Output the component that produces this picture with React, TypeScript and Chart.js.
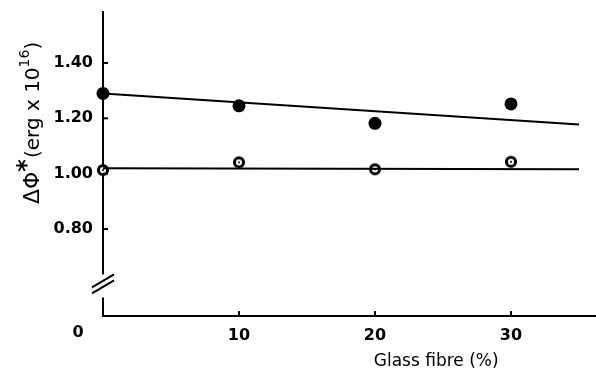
import React, { useEffect, useRef } from "react";
import { Chart, registerables } from "chart.js";

Chart.register(...registerables);

// ---- data ----
const glassFibre = [0, 10, 20, 30];
const filledValues = [1.29, 1.245, 1.182, 1.252];
const openValues = [1.013, 1.041, 1.016, 1.043];
const fitX = [0, 35];
const filledFit = [1.29, 1.178];
const openFit = [1.02, 1.016];
const yTicks = [0.8, 1.0, 1.2, 1.4];
const xTicks = [10, 20, 30];
const yTickLabels = ["0.80", "1.00", "1.20", "1.40"];
const xTickLabels = ["10", "20", "30"];
const originLabel = "0";
const xTitle = "Glass fibre (%)";
const yMin = 0.486;
const yMax = 1.584;
const xMin = 0;
const xMax = 36.25;
const breakValue = 0.6;

const FONT = "'DejaVu Sans', sans-serif";

function makeOpenMarker(): HTMLCanvasElement {
  const c = document.createElement("canvas");
  c.width = 14;
  c.height = 14;
  const g = c.getContext("2d")!;
  g.beginPath();
  g.arc(7, 7, 4.6, 0, Math.PI * 2);
  g.fillStyle = "#fff";
  g.fill();
  g.lineWidth = 3;
  g.strokeStyle = "#000";
  g.stroke();
  g.beginPath();
  g.arc(7, 7, 1.1, 0, Math.PI * 2);
  g.fillStyle = "#000";
  g.fill();
  return c;
}

const decorPlugin = {
  id: "decor",
  afterDraw(chart: any) {
    const ctx = chart.ctx as CanvasRenderingContext2D;
    const xs = chart.scales.x;
    const ys = chart.scales.y;
    const left = xs.left;
    const bottom = ys.bottom;
    ctx.save();
    ctx.strokeStyle = "#000";
    ctx.lineWidth = 2;
    // inward tick marks
    yTicks.forEach((v) => {
      const py = ys.getPixelForValue(v);
      ctx.beginPath();
      ctx.moveTo(left, py);
      ctx.lineTo(left + 5, py);
      ctx.stroke();
    });
    xTicks.forEach((v) => {
      const px = xs.getPixelForValue(v);
      ctx.beginPath();
      ctx.moveTo(px, bottom);
      ctx.lineTo(px, bottom - 5);
      ctx.stroke();
    });
    // axis break
    const by = ys.getPixelForValue(breakValue);
    ctx.fillStyle = "#fff";
    ctx.fillRect(left - 3, by - 10, 6, 23);
    ctx.beginPath();
    ctx.moveTo(left - 11, by + 3);
    ctx.lineTo(left + 11, by - 10);
    ctx.moveTo(left - 11, by + 9);
    ctx.lineTo(left + 11, by - 4);
    ctx.stroke();
    // origin label
    ctx.fillStyle = "#000";
    ctx.textAlign = "center";
    ctx.textBaseline = "middle";
    ctx.font = `bold 16px ${FONT}`;
    ctx.fillText(originLabel, left - 25, bottom + 17);
    // x title
    ctx.font = `17px ${FONT}`;
    ctx.fillText(xTitle, xs.getPixelForValue(24.5), bottom + 46);
    // y title (rotated)
    ctx.translate(39, 204);
    ctx.rotate(-Math.PI / 2);
    ctx.textAlign = "left";
    ctx.textBaseline = "alphabetic";
    let x = 0;
    const seg = (t: string, font: string, dy: number) => {
      ctx.font = font;
      ctx.fillText(t, x, dy);
      x += ctx.measureText(t).width;
    };
    seg("ΔΦ", `22px ${FONT}`, 0);
    seg("*", `bold 24px ${FONT}`, -5);
    x += 1;
    seg("(erg x 10", `20px ${FONT}`, 0);
    seg("16", `14px ${FONT}`, -10);
    seg(")", `20px ${FONT}`, 0);
    ctx.restore();
  },
};

export default function App() {
  const ref = useRef<HTMLCanvasElement>(null);
  useEffect(() => {
    if (!ref.current) return;
    const openMarker = makeOpenMarker();
    const chart = new Chart(ref.current, {
      type: "scatter",
      data: {
        datasets: [
          {
            type: "line",
            data: fitX.map((x, i) => ({ x, y: filledFit[i] })),
            borderColor: "#000",
            borderWidth: 2,
            pointRadius: 0,
            clip: false,
          } as any,
          {
            type: "line",
            data: fitX.map((x, i) => ({ x, y: openFit[i] })),
            borderColor: "#000",
            borderWidth: 2,
            pointRadius: 0,
            clip: false,
          } as any,
          {
            data: glassFibre.map((x, i) => ({ x, y: filledValues[i] })),
            backgroundColor: "#000",
            borderColor: "#000",
            pointRadius: 6.5,
            borderWidth: 0,
            clip: false,
          } as any,
          {
            data: glassFibre.map((x, i) => ({ x, y: openValues[i] })),
            pointStyle: openMarker,
            pointRadius: 7,
            clip: false,
          } as any,
        ],
      },
      options: {
        animation: false,
        responsive: false,
        layout: { autoPadding: false, padding: { top: 12, left: 0, right: 0, bottom: 0 } },
        plugins: {
          legend: { display: false },
          tooltip: { enabled: false },
        },
        scales: {
          x: {
            type: "linear",
            min: xMin,
            max: xMax,
            afterBuildTicks: (s: any) => {
              s.ticks = xTicks.map((v) => ({ value: v }));
            },
            afterFit: (s: any) => {
              s.height = 66;
              s.paddingLeft = 0;
              s.paddingRight = 0;
            },
            grid: { display: false, drawTicks: false },
            border: { display: true, color: "#000", width: 2 },
            ticks: {
              color: "#000",
              padding: 10,
              autoSkip: false,
              maxRotation: 0,
              font: { family: FONT, size: 16, weight: "bold" },
              callback: (v: any) => xTickLabels[xTicks.indexOf(Number(v))] ?? "",
            },
          },
          y: {
            type: "linear",
            min: yMin,
            max: yMax,
            afterBuildTicks: (s: any) => {
              s.ticks = yTicks.map((v) => ({ value: v }));
            },
            afterFit: (s: any) => {
              s.width = 103;
              s.paddingTop = 0;
              s.paddingBottom = 0;
            },
            grid: { display: false, drawTicks: false },
            border: { display: true, color: "#000", width: 2 },
            ticks: {
              color: "#000",
              padding: 10,
              autoSkip: false,
              font: { family: FONT, size: 16, weight: "bold" },
              callback: (v: any) => {
                const i = yTicks.findIndex((t) => Math.abs(t - Number(v)) < 1e-6);
                return i >= 0 ? yTickLabels[i] : "";
              },
            },
          },
        },
      } as any,
      plugins: [decorPlugin],
    });
    return () => chart.destroy();
  }, []);
  return (
    <div style={{ position: "absolute", left: 0, top: 0, width: 596, height: 382, background: "#fff" }}>
      <canvas ref={ref} width={596} height={382} style={{ display: "block" }} />
    </div>
  );
}
